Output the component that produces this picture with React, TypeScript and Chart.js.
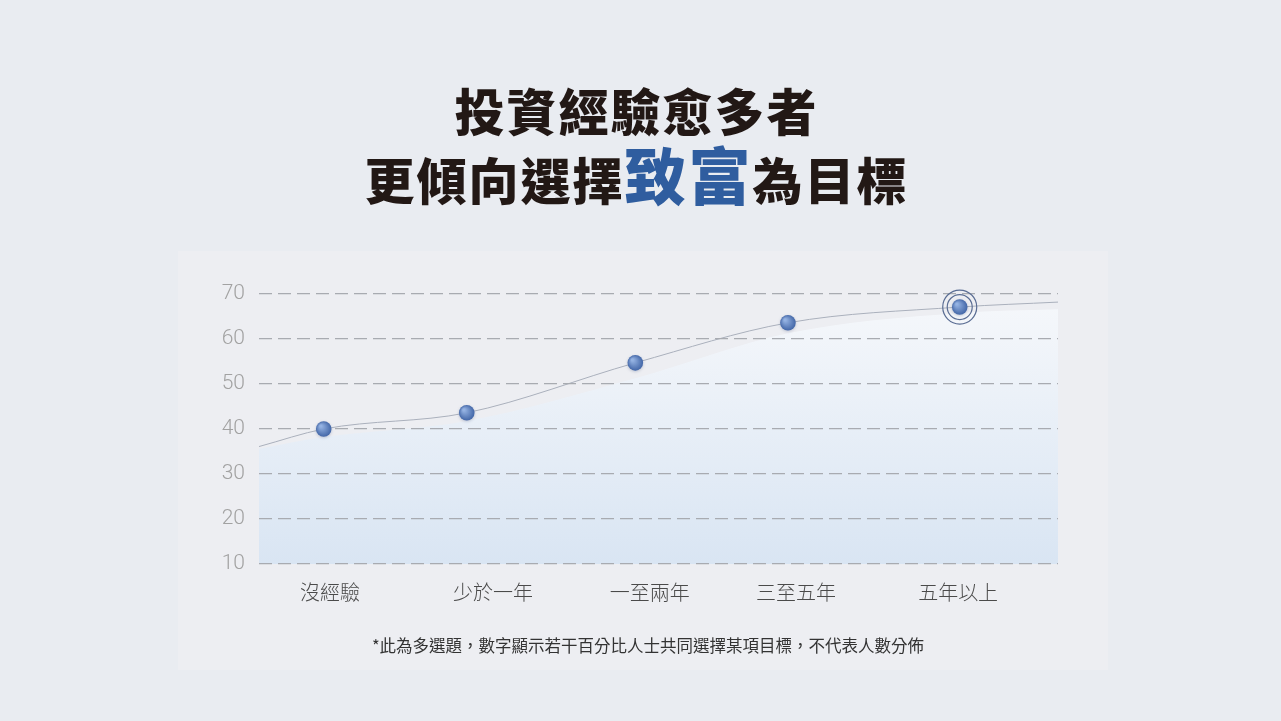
import React, { useEffect, useRef } from 'react';
import { Chart, registerables } from 'chart.js';

Chart.register(...registerables);

// === Data ===
const categories = ['沒經驗', '少於一年', '一至兩年', '三至五年', '五年以上'];
// horizontal position of each point on a 0-100 track
const pointX = [8.1, 26.0, 47.1, 66.2, 87.7];
// share (%) choosing "致富"
const shares = [40, 43.6, 54.7, 63.6, 67.1];
// where the category labels sit on the same track
const labelX = [8.9, 29.3, 48.9, 67.2, 87.5];
// the curve runs past the first/last point to the edges
const lineEdgeY = [36.1, 68.2];
// soft shaded band under the curve
const shadeX = [0, 8.1, 26.0, 47.1, 66.2, 87.7, 100];
const shadeY = [35.6, 38.2, 41.8, 51.3, 61.3, 65.8, 66.6];
const yTicks = [10, 20, 30, 40, 50, 60, 70];
const highlightIndex = 4;

// gradient balls + rings, drawn after the (raised) grid layer
const dotPlugin = {
  id: 'dots',
  afterDraw(chart: any) {
    const meta = chart.getDatasetMeta(2);
    const ctx = chart.ctx;
    meta.data.forEach((pt: any, i: number) => {
      const { x, y } = pt;
      ctx.save();
      if (i === highlightIndex) {
        ctx.strokeStyle = '#5a6d93';
        ctx.lineWidth = 1.2;
        [12.5, 17].forEach(r => {
          ctx.beginPath();
          ctx.arc(x, y, r, 0, Math.PI * 2);
          ctx.stroke();
        });
      }
      ctx.shadowColor = 'rgba(40,60,110,0.25)';
      ctx.shadowBlur = 3;
      ctx.shadowOffsetY = 1;
      const g = ctx.createRadialGradient(x - 3, y - 3, 1, x, y, 8);
      g.addColorStop(0, '#94b2e2');
      g.addColorStop(1, '#4165a6');
      ctx.fillStyle = g;
      ctx.beginPath();
      ctx.arc(x, y, 7.8, 0, Math.PI * 2);
      ctx.fill();
      ctx.restore();
    });
  },
};

const ExperienceChart: React.FC = () => {
  const canvasRef = useRef<HTMLCanvasElement>(null);

  useEffect(() => {
    if (!canvasRef.current) return;

    const linePoints = [
      { x: 0, y: lineEdgeY[0] },
      ...pointX.map((x, i) => ({ x, y: shares[i] })),
      { x: 100, y: lineEdgeY[1] },
    ];

    const chart = new Chart(canvasRef.current, {
      type: 'line',
      data: {
        datasets: [
          {
            data: linePoints,
            borderColor: '#aab0bc',
            borderWidth: 1,
            pointRadius: 0,
            cubicInterpolationMode: 'monotone',
            fill: false,
          },
          {
            data: shadeX.map((x, i) => ({ x, y: shadeY[i] })),
            borderWidth: 0,
            borderColor: 'rgba(0,0,0,0)',
            pointRadius: 0,
            cubicInterpolationMode: 'monotone',
            fill: 'start',
            backgroundColor: (c: any) => {
              const area = c.chart.chartArea;
              if (!area) return '#e6edf6';
              const g = c.chart.ctx.createLinearGradient(0, area.top, 0, area.bottom);
              g.addColorStop(0, '#f6f8fb');
              g.addColorStop(1, '#d9e5f3');
              return g;
            },
          },
          {
            data: pointX.map((x, i) => ({ x, y: shares[i] })),
            showLine: false,
            pointRadius: 0,
            borderWidth: 0,
          },
        ],
      },
      options: {
        responsive: true,
        maintainAspectRatio: false,
        animation: false,
        layout: { padding: { top: 43, right: 50, left: 0, bottom: 0 } },
        plugins: { legend: { display: false }, tooltip: { enabled: false } },
        scales: {
          x: {
            type: 'linear',
            min: 0,
            max: 100,
            afterFit: (s: any) => { s.height = 106; },
            afterBuildTicks: (s: any) => { s.ticks = labelX.map(v => ({ value: v })); },
            grid: { display: false, drawTicks: false },
            border: { display: false },
            ticks: {
              autoSkip: false,
              maxRotation: 0,
              padding: 16,
              color: '#4a4a4a',
              font: { family: '"Noto Sans CJK TC", sans-serif', size: 20, weight: '300' as any },
              callback: (_v: any, i: number) => categories[i],
            },
          },
          y: {
            min: 10,
            max: 70,
            afterFit: (s: any) => { s.width = 81; },
            afterBuildTicks: (s: any) => { s.ticks = yTicks.map(v => ({ value: v })); },
            grid: { z: 1, color: '#a8abb1', lineWidth: 1.2, drawTicks: false, borderDash: [13, 6] } as any,
            border: { display: false, dash: [13, 6] },
            ticks: {
              padding: 14,
              color: '#a2a2a2',
              font: { family: 'Roboto, "Noto Sans", sans-serif', size: 21, weight: '300' as any },
            },
          },
        },
      },
      plugins: [dotPlugin],
    });

    return () => chart.destroy();
  }, []);

  return <canvas ref={canvasRef} />;
};

const App: React.FC = () => {
  const cjk = '"Noto Sans CJK TC", "Noto Sans CJK SC", sans-serif';
  return (
    <div
      style={{
        position: 'absolute',
        left: 0,
        top: 0,
        width: 1281,
        height: 721,
        background: '#e9ecf1',
        fontFamily: cjk,
        overflow: 'hidden',
      }}
    >
      {/* title */}
      <div
        style={{
          position: 'absolute',
          top: 84,
          left: -4,
          width: 1281,
          textAlign: 'center',
          fontSize: 50,
          lineHeight: '50px',
          fontWeight: 900,
          letterSpacing: 2,
          color: '#221815',
        }}
      >
        投資經驗愈多者
      </div>
      <div
        style={{
          position: 'absolute',
          top: 141,
          left: -4,
          width: 1281,
          textAlign: 'center',
          fontSize: 50,
          lineHeight: '64px',
          fontWeight: 900,
          letterSpacing: 2,
          color: '#221815',
        }}
      >
        更傾向選擇<span style={{ color: '#2f5d9f', fontSize: 62 }}>致富</span>為目標
      </div>

      {/* chart panel */}
      <div
        style={{
          position: 'absolute',
          left: 178,
          top: 251,
          width: 930,
          height: 419,
          background: '#edeef2',
        }}
      >
        <div style={{ position: 'absolute', left: 0, top: 0, width: 930, height: 419 }}>
          <ExperienceChart />
        </div>
        <div
          style={{
            position: 'absolute',
            left: 0,
            top: 384,
            width: 940,
            textAlign: 'center',
            fontSize: 16.5,
            lineHeight: '20px',
            color: '#333333',
          }}
        >
          *此為多選題，數字顯示若干百分比人士共同選擇某項目標，不代表人數分佈
        </div>
      </div>
    </div>
  );
};

export default App;
